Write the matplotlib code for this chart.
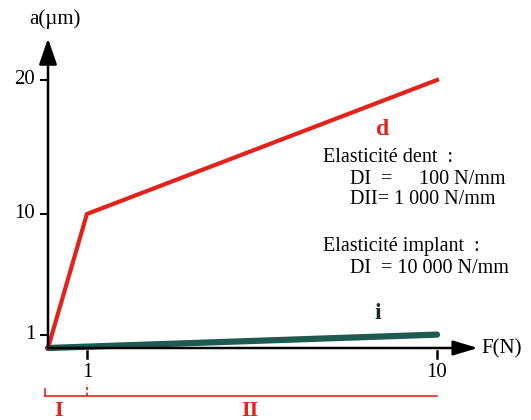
import numpy as np
import matplotlib
matplotlib.use('Agg')
import matplotlib.pyplot as plt

# data
force_d = [0, 1, 10]
disp_d = [0, 10, 20]
force_i = [0, 10]
disp_i = [0, 1]
yticks = [1, 10, 20]
xticks = [1, 10]

plt.rcParams['font.family'] = ['Liberation Serif', 'DejaVu Serif']

red = '#e4221c'
green = '#1e5a50'

fig = plt.figure(figsize=(5.31, 4.2), dpi=100)
ax = fig.add_axes([0, 0, 1, 1])
# pixel mapping: origin at (48, 348), 38.9 px per N, 13.4 px per um
ax.set_xlim(-48 / 38.9, (531 - 48) / 38.9)
ax.set_ylim(-(420 - 348) / 13.4, 348 / 13.4)
ax.axis('off')

# curves
ax.plot(force_i, disp_i, color=green, lw=4.5, solid_capstyle='round', zorder=3)
ax.plot(force_d, disp_d, color=red, lw=3.0, solid_joinstyle='miter', zorder=4)

# axes with arrows
arrow = dict(arrowstyle='-|>,head_length=1.6,head_width=0.55',
             color='black', lw=1.8, shrinkA=0, shrinkB=0)
ax.annotate('', xy=(0, 23.1), xytext=(0, 0), arrowprops=arrow, zorder=5)
arrow_x = dict(arrow, arrowstyle='-|>,head_length=1.5,head_width=0.45')
ax.annotate('', xy=(11.05, 0), xytext=(0, 0), arrowprops=arrow_x, zorder=5)
ax.text(0.18, 24.55, 'a(µm)', ha='center', va='center', fontsize=15)
ax.text(11.15, -0.1, 'F(N)', ha='left', va='center', fontsize=15)

# y ticks
for v in yticks:
    ax.plot([-0.18, 0], [v, v], color='black', lw=1.5)
    ax.text(-0.33, v, str(v), ha='right', va='center', fontsize=15)

# x ticks
for v in xticks:
    ax.plot([v, v], [-0.2, -0.75], color='black', lw=1.8)
    ax.text(v, -1.15, str(v), ha='center', va='top', fontsize=15)

# zone bracket
yb = -3.55
ax.plot([-0.08, 10], [yb, yb], color=red, lw=1.2)
ax.plot([-0.08, -0.08], [yb, yb + 0.5], color=red, lw=1.2)
ax.plot([1, 1], [yb, yb + 0.9], color=red, lw=1.2, ls=(0, (2, 1.5)))
ax.text(0.26, -4.7, 'I', color=red, fontweight='bold', ha='center', va='center', fontsize=16)
ax.text(5.19, -4.7, 'II', color=red, fontweight='bold', ha='center', va='center', fontsize=16)

# labels
ax.text(8.61, 16.3, 'd', color=red, fontweight='bold', ha='center', va='center', fontsize=17)
ax.text(8.48, 2.6, 'i', color='#1a2a28', fontweight='bold', ha='center', va='center', fontsize=17)

tx = 7.07
fs = 14.5
ax.text(tx, 14.2, 'Elasticité dent  :', ha='left', va='center', fontsize=fs)
ax.text(tx + 0.69, 12.55, 'DI  =', ha='left', va='center', fontsize=fs)
ax.text(11.75, 12.55, '100 N/mm', ha='right', va='center', fontsize=fs)
ax.text(tx + 0.69, 11.1, 'DII= 1 000 N/mm', ha='left', va='center', fontsize=fs)
ax.text(tx, 7.6, 'Elasticité implant  :', ha='left', va='center', fontsize=fs)
ax.text(tx + 0.69, 5.9, 'DI  = 10 000 N/mm', ha='left', va='center', fontsize=fs)

fig.savefig('out.png', dpi=100, facecolor='white')
